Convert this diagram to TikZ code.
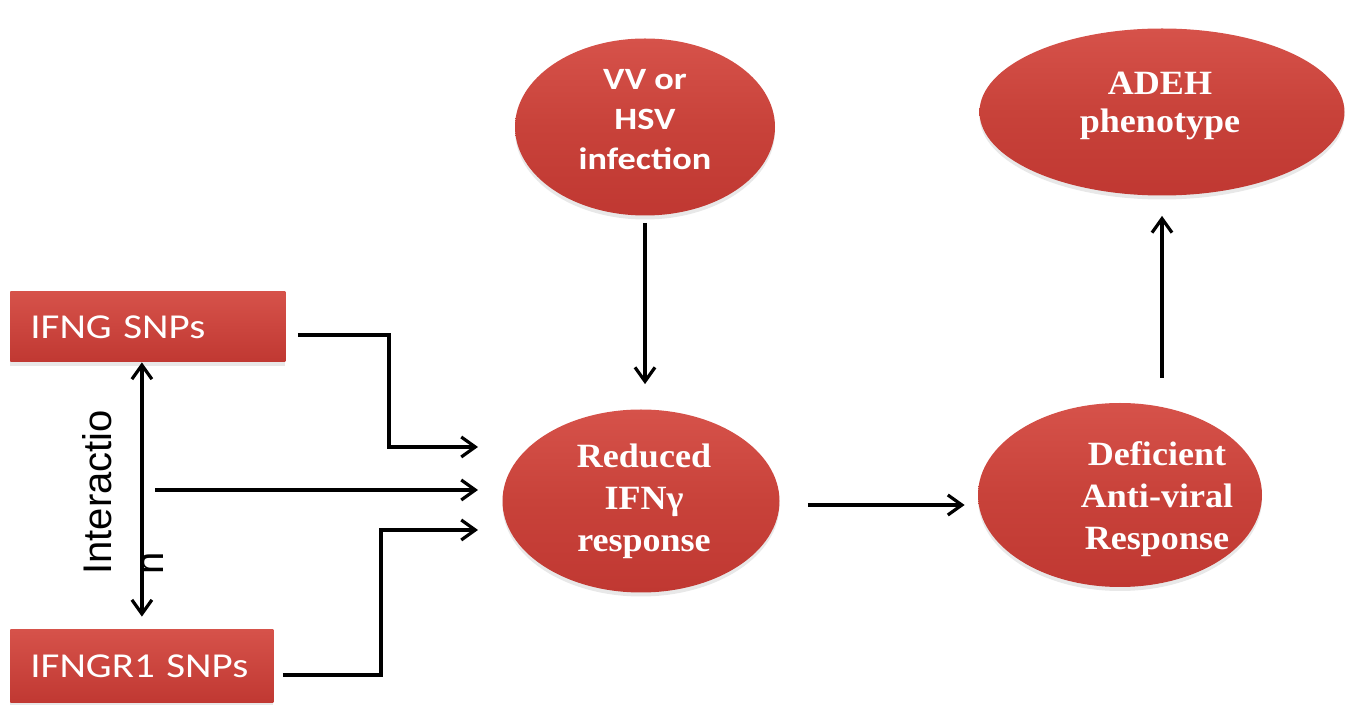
\documentclass[tikz,border=0pt]{standalone}
\usepackage{fontspec}
\usetikzlibrary{arrows.meta,shadows,calc,shapes.geometric}
\newfontfamily\calfont[FakeStretch=1.17]{Carlito}
\newfontfamily\serfont[FakeStretch=1.06]{Liberation Serif}
\newfontfamily\arifont{Liberation Sans}
\definecolor{redtop}{RGB}{214,82,74}
\definecolor{redbot}{RGB}{192,56,50}
\definecolor{boxred}{RGB}{200,66,58}
\tikzset{
  oval/.style={ellipse, draw=none, top color=redtop, bottom color=redbot, middle color=boxred,
    drop shadow={opacity=0.18, shadow xshift=0pt, shadow yshift=-2pt}},
  snpbox/.style={rectangle, draw=none, top color=redtop, bottom color=redbot, text=white,
    font=\calfont\fontsize{17.5}{21}\selectfont, anchor=west, align=left,
    inner xsep=10pt, inner ysep=0pt,
    drop shadow={opacity=0.18, shadow xshift=0pt, shadow yshift=-2pt}},
  sertext/.style={text=white, align=center, inner sep=0pt,
    font=\serfont\bfseries\fontsize{17}{21}\selectfont},
  caltext/.style={text=white, align=center, inner sep=0pt,
    font=\calfont\bfseries\fontsize{15.5}{20}\selectfont},
  arr/.style={line width=1.75pt, -{Straight Barb[length=7pt,width=10pt,line width=1.6pt]}},
  darr/.style={line width=1.75pt, {Straight Barb[length=7pt,width=10pt,line width=1.6pt]}-{Straight Barb[length=7pt,width=10pt,line width=1.6pt]}},
}
\begin{document}
\begin{tikzpicture}[x=0.5pt,y=-0.5pt]
\useasboundingbox (0,0) rectangle (1346,705);
% ellipses
\node[oval, minimum width=130pt, minimum height=88.5pt] (vv) at (645,127) {};
\node[oval, minimum width=182.5pt, minimum height=83.5pt] (adeh) at (1162,112) {};
\node[oval, minimum width=138.5pt, minimum height=91.5pt] (red) at (641,501) {};
\node[oval, minimum width=142pt, minimum height=92pt] (def) at (1120,495) {};
% ellipse texts
\node[caltext] (vvt) at (645,120) {VV or\\HSV\\infection};
\node[sertext, font=\serfont\bfseries\fontsize{17}{19}\selectfont] (adeht) at (1160,106) {ADEH\\phenotype};
\node[sertext] (redt) at (644,501) {Reduced\\IFNγ\\response};
\node[sertext] (deft) at (1157,499) {Deficient\\Anti-viral\\Response};
% boxes
\node[snpbox, text width=117.5pt, minimum height=35pt] (ifng) at (10,327) {IFNG SNPs};
\node[snpbox, text width=111.5pt, minimum height=36.5pt] (ifngr) at (10,666.5) {IFNGR1 SNPs};
% interaction label
\node[rotate=90, anchor=base west, inner sep=0pt, font=\arifont\fontsize{20}{24}\selectfont] (int1) at (112,575) {Interactio};
\node[rotate=90, anchor=base west, inner sep=0pt, font=\arifont\fontsize{20}{24}\selectfont] (int2) at (163,575) {n};
% coordinates
\coordinate (in1) at (478,447);
\coordinate (in2) at (478,490);
\coordinate (in3) at (478,530);
\coordinate (mid) at (155,490);
% connectors
\draw[darr, shorten >=6.5pt] (ifng.south -| ifngr.north) -- (ifngr.north);
\draw[arr] ([shift={(6pt,-4pt)}]ifng.east) -- ++(45.5pt,0) |- (in1);
\draw[arr] (mid) -- (in2);
\draw[arr] ([shift={(4.5pt,-4.25pt)}]ifngr.east) -- ++(49pt,0) |- (in3);
\draw[arr, shorten <=3.5pt, shorten >=12.5pt] (vv.south) -- (vv.south |- red.north);
\draw[arr] ([shift={(14pt,-2pt)}]red.east) -- ([shift={(-6.5pt,-5pt)}]def.west);
\draw[arr, shorten >=10pt] ($(adeh.south |- def.north)+(0,-25)$) -- (adeh.south);
\end{tikzpicture}
\end{document}
